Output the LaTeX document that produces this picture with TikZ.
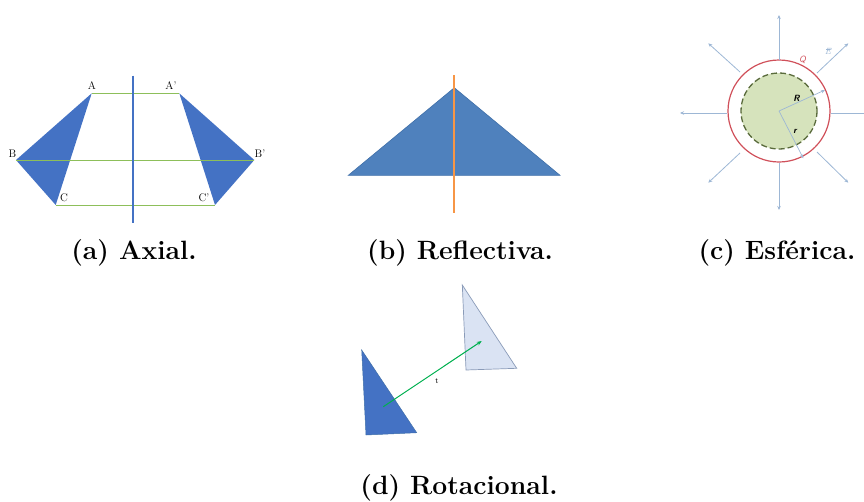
\documentclass[tikz,border=0pt]{standalone}
\usepackage{fontspec}
\usetikzlibrary{arrows.meta}
\definecolor{tribl}{HTML}{4472C4}
\definecolor{trib}{HTML}{4F81BD}
\definecolor{tribd}{HTML}{3F6FA8}
\definecolor{axgreen}{HTML}{8DBF5A}
\definecolor{axisblue}{RGB}{68,114,196}
\definecolor{orng}{HTML}{F79646}
\definecolor{qred}{HTML}{D0505A}
\definecolor{sgreen}{HTML}{D6E3BC}
\definecolor{sdash}{HTML}{5A6B3C}
\definecolor{farrow}{HTML}{9DB7D5}
\definecolor{lighttri}{HTML}{DAE3F3}
\definecolor{lighttrid}{HTML}{8A9BB8}
\definecolor{tgreen}{HTML}{00B050}
\tikzset{
  caption/.style={font=\fontsize{26.5}{30}\selectfont\bfseries, inner sep=0pt},
  vlabel/.style={font=\fontsize{11}{12}\selectfont, inner sep=0pt},
  fld/.style={farrow, line width=0.8pt, -{Stealth[length=4pt,width=3.5pt]}},
}
\begin{document}
\begin{tikzpicture}[x=1pt,y=-1pt]
\useasboundingbox (0,0) rectangle (864,501);
% ---------- (a) Axial ----------
\coordinate (A) at (91.7,93.3);
\coordinate (B) at (16,160);
\coordinate (C) at (55.7,205);
\coordinate (Ap) at (179.3,93.3);
\coordinate (Bp) at (254.3,160);
\coordinate (Cp) at (215,205);
\fill[tribl] (A) -- (B) -- (C) -- cycle;
\fill[tribl] (Ap) -- (Bp) -- (Cp) -- cycle;
\draw[axgreen, line width=0.9pt] (A) -- (Ap);
\draw[axgreen, line width=0.9pt] (B) -- (Bp);
\draw[axgreen, line width=0.9pt] (C) -- (Cp);
\coordinate (axt) at (133,75.7);
\coordinate (axb) at (133,222.7);
\draw[draw=axisblue, line width=2pt] (axt) -- (axb);
\node[vlabel] (lA) at (92,86) {A};
\node[vlabel] (lAp) at (171,86) {A'};
\node[vlabel] (lB) at (12.5,154) {B};
\node[vlabel] (lBp) at (260,154) {B'};
\node[vlabel] (lC) at (64,198) {C};
\node[vlabel] (lCp) at (204,198) {C'};
\node[caption] (capa) at (134,253) {(a) Axial.};
% ---------- (b) Reflectiva ----------
\coordinate (rl) at (348.3,175.3);
\coordinate (rt) at (454.3,87.7);
\coordinate (rr) at (560,175.3);
\filldraw[fill=trib, draw=tribd, line width=0.6pt] (rl) -- (rt) -- (rr) -- cycle;
\coordinate (ot) at (454,75);
\coordinate (ob) at (454,213.3);
\draw[orng, line width=1.6pt] (ot) -- (ob);
\node[caption] (capb) at (460,253) {(b) Reflectiva.};
% ---------- (c) Esferica ----------
\coordinate (O) at (779,111);
\fill[sgreen] (O) circle[radius=38];
\draw[sdash, line width=1.3pt, dash pattern=on 6pt off 3pt] (O) circle[radius=38];
\draw[qred, line width=1.2pt] (O) circle[radius=51];
\coordinate (Rend) at (825,90);
\coordinate (rend) at (803.3,158.3);
\draw[fld, line width=0.7pt] (O) -- (Rend);
\draw[fld, line width=0.7pt] (O) -- (rend);
\node[font=\sffamily\bfseries\itshape\fontsize{9}{10}\selectfont, inner sep=0pt] (lR) at (796.5,98.5) {R};
\node[font=\sffamily\bfseries\itshape\fontsize{9}{10}\selectfont, inner sep=0pt] (lr) at (795,131.7) {r};
\node[font=\sffamily\itshape\fontsize{9}{10}\selectfont, text=qred, inner sep=0pt] (lQ) at (802.5,59.5) {Q};
\node[font=\itshape\fontsize{9}{10}\selectfont, text=farrow, inner sep=0pt] (lE) at (828,51) {E};
\draw[farrow, line width=0.4pt, -{Stealth[length=1.6pt,width=1.6pt]}] ([xshift=-2pt,yshift=-1.5pt]lE.north) -- ([xshift=3pt,yshift=-1.5pt]lE.north);
% field arrows
\coordinate (u1) at (779,60);   \coordinate (u2) at (779,15);
\coordinate (d1) at (779,163);  \coordinate (d2) at (779,210);
\coordinate (l1) at (727,113);  \coordinate (l2) at (680,113);
\coordinate (r1) at (831,113);  \coordinate (r2) at (864,113);
\coordinate (ul1) at (740,72);  \coordinate (ul2) at (708.3,43.3);
\coordinate (ur1) at (817,73);  \coordinate (ur2) at (848.3,43.3);
\coordinate (dl1) at (740,153); \coordinate (dl2) at (708.3,182.7);
\coordinate (dr1) at (817,152); \coordinate (dr2) at (848.3,182.7);
\draw[fld] (u1) -- (u2);
\draw[fld] (d1) -- (d2);
\draw[fld] (l1) -- (l2);
\draw[farrow, line width=0.8pt] (r1) -- (r2);
\draw[fld] (ul1) -- (ul2);
\draw[fld] (ur1) -- (ur2);
\draw[fld] (dl1) -- (dl2);
\draw[fld] (dr1) -- (dr2);
\node[caption] (capc) at (777,253) {(c) Esférica.};
% ---------- (d) Rotacional ----------
\coordinate (p1) at (361.7,350);
\coordinate (p2) at (366,435);
\coordinate (p3) at (416.7,432.7);
\filldraw[fill=tribl, draw=tribd, line width=0.5pt] (p1) -- (p2) -- (p3) -- cycle;
\coordinate (q1) at (462.3,285);
\coordinate (q2) at (466,370);
\coordinate (q3) at (516.7,368.3);
\filldraw[fill=lighttri, draw=lighttrid, line width=0.7pt] (q1) -- (q2) -- (q3) -- cycle;
\coordinate (ts) at (383.3,406.7);
\coordinate (te) at (481.7,341);
\draw[tgreen, line width=1pt, -{Stealth[length=5pt,width=4pt]}] (ts) -- (te);
\node[font=\fontsize{8}{9}\selectfont, inner sep=0pt] (lt) at (437,381) {t};
\node[caption] (capd) at (459,488) {(d) Rotacional.};
\end{tikzpicture}
\end{document}
